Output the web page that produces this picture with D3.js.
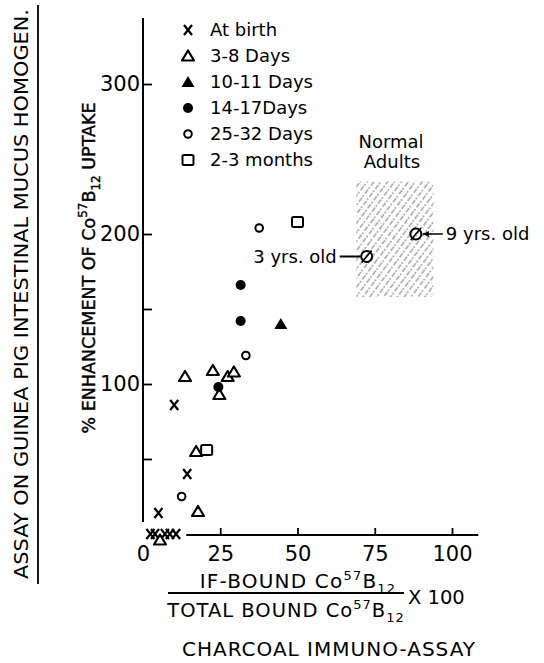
<!DOCTYPE html>
<html>
<head>
<script src="https://d3js.org/d3.v7.min.js"></script>
<style>
  body { margin: 0; background: #fff; }
  svg { font-family: 'DejaVu Sans', sans-serif; }
</style>
</head>
<body>
<div id="chart"></div>
<script>
// values: [IF-bound %, % enhancement]
const atBirth = [[2.4, 0], [3.9, 0], [7.1, 0], [8.7, 0], [10.7, 0], [5, 14], [14.3, 40], [10.1, 86]];
const days3to8 = [[13.6, 105], [22.6, 109], [27.4, 105], [29.4, 108], [24.7, 93], [17.2, 55], [17.8, 15], [5.5, -4]];
const days10to11 = [[44.6, 140]];
const days14to17 = [[31.6, 166], [31.6, 142], [24.4, 98]];
const days25to32 = [[33.3, 119], [37.6, 204], [12.5, 25]];
const months2to3 = [[50, 208], [20.6, 56]];
const adults = [[72.4, 185, "3 yrs. old"], [88.3, 200, "9 yrs. old"]];
const normalRangeX = [69, 94];
const normalRangeY = [158, 235];

const legendLabels = ["At birth", "3-8 Days", "10-11 Days", "14-17Days", "25-32 Days", "2-3 months"];
const xTicks = [0, 25, 50, 75, 100];
const yTicks = [50, 100, 150, 200, 300];
const yLabelled = [100, 200, 300];

const width = 544, height = 663;
const svg = d3.select("#chart").append("svg")
  .attr("width", width).attr("height", height);

const x = d3.scaleLinear().domain([0, 100]).range([143, 452]);
const y = d3.scaleLinear().domain([0, 300]).range([534, 84]);

// hatch for normal adults band
const defs = svg.append("defs");
const pat = defs.append("pattern")
  .attr("id", "hatch").attr("patternUnits", "userSpaceOnUse")
  .attr("width", 5.5).attr("height", 10)
  .attr("patternTransform", "rotate(37)");
pat.append("line").attr("x1", 1).attr("y1", 0).attr("x2", 1).attr("y2", 10)
  .attr("stroke", "#222").attr("stroke-width", 0.8).attr("stroke-dasharray", "5 2 2 1");

svg.append("rect")
  .attr("x", x(normalRangeX[0])).attr("y", y(normalRangeY[1]))
  .attr("width", x(normalRangeX[1]) - x(normalRangeX[0]))
  .attr("height", y(normalRangeY[0]) - y(normalRangeY[1]))
  .attr("fill", "url(#hatch)").attr("opacity", 0.8);

svg.append("text").attr("x", 391).attr("y", 148).attr("text-anchor", "middle")
  .attr("font-size", 18).text("Normal");
svg.append("text").attr("x", 392).attr("y", 168).attr("text-anchor", "middle")
  .attr("font-size", 18).text("Adults");

// axes
const yAxis = d3.axisLeft(y).tickValues(yTicks)
  .tickSize(-9).tickPadding(3)
  .tickFormat(d => yLabelled.includes(d) ? d : "");
const gy = svg.append("g").attr("transform", `translate(${x(0)},0)`).call(yAxis);
gy.select(".domain").remove();
gy.selectAll("line").attr("stroke", "#000").attr("stroke-width", 1.8);
gy.selectAll("text").attr("font-size", 21).attr("font-family", "'DejaVu Sans', sans-serif").attr("fill", "#000");
svg.append("line").attr("x1", x(0)).attr("x2", x(0))
  .attr("y1", y(344)).attr("y2", y(8))
  .attr("stroke", "#000").attr("stroke-width", 2);

const xAxis = d3.axisBottom(x).tickValues(xTicks)
  .tickSize(-7).tickPadding(11);
const gx = svg.append("g").attr("transform", `translate(0,${y(0) + 1})`).call(xAxis);
gx.select(".domain").remove();
gx.selectAll("line").attr("stroke", "#000").attr("stroke-width", 1.8)
  .filter(d => d === 0).remove();
gx.selectAll("text").attr("font-size", 21).attr("font-family", "'DejaVu Sans', sans-serif").attr("fill", "#000");
svg.append("line").attr("x1", x(14)).attr("x2", x(108.5))
  .attr("y1", y(0) + 1).attr("y2", y(0) + 1)
  .attr("stroke", "#000").attr("stroke-width", 2);

// marker shapes
const markers = {
  cross: g => g.append("path").attr("d", "M-4,-5L4,5M4,-5L-4,5")
    .attr("stroke", "#000").attr("stroke-width", 2.2).attr("fill", "none"),
  triOpen: g => g.append("path").attr("d", "M-6,4.5L6,4.5L0,-5.5Z")
    .attr("stroke", "#000").attr("stroke-width", 2.2).attr("fill", "#fff").attr("stroke-linejoin", "round"),
  triFilled: g => g.append("path").attr("d", "M-6.5,5L6.5,5L0,-6Z").attr("fill", "#000"),
  dotFilled: g => g.append("circle").attr("r", 5).attr("fill", "#000"),
  dotOpen: g => g.append("circle").attr("r", 3.8)
    .attr("stroke", "#000").attr("stroke-width", 2).attr("fill", "#fff"),
  square: g => g.append("rect").attr("x", -5.5).attr("y", -5).attr("width", 11).attr("height", 10).attr("rx", 1.5)
    .attr("stroke", "#000").attr("stroke-width", 2).attr("fill", "#fff"),
  adult: g => {
    g.append("circle").attr("r", 5.5).attr("stroke", "#000").attr("stroke-width", 2).attr("fill", "none");
    g.append("path").attr("d", "M-5,6L5,-6").attr("stroke", "#000").attr("stroke-width", 1.6);
  }
};

const series = [
  [atBirth, "cross"], [days3to8, "triOpen"], [days10to11, "triFilled"],
  [days14to17, "dotFilled"], [days25to32, "dotOpen"], [months2to3, "square"]
];

series.forEach(([data, m]) => {
  svg.append("g").selectAll("g").data(data).join("g")
    .attr("transform", d => `translate(${x(d[0])},${y(d[1])})`)
    .each(function () { markers[m](d3.select(this)); });
});

// adult points with labels
const ga = svg.append("g").selectAll("g").data(adults).join("g")
  .attr("transform", d => `translate(${x(d[0])},${y(d[1])})`);
ga.each(function () { markers.adult(d3.select(this)); });

const a3 = adults[0], a9 = adults[1];
svg.append("line").attr("x1", x(a3[0]) - 27).attr("x2", x(a3[0]) - 6)
  .attr("y1", y(a3[1])).attr("y2", y(a3[1])).attr("stroke", "#000").attr("stroke-width", 2);
svg.append("text").attr("x", x(a3[0]) - 30).attr("y", y(a3[1])).attr("dy", "0.35em")
  .attr("text-anchor", "end").attr("font-size", 18).text(a3[2]);
svg.append("line").attr("x1", x(a9[0]) + 7).attr("x2", x(a9[0]) + 27)
  .attr("y1", y(a9[1])).attr("y2", y(a9[1])).attr("stroke", "#000").attr("stroke-width", 1.5);
svg.append("path")
  .attr("d", `M${x(a9[0]) + 7},${y(a9[1])}l6,-3l0,6Z`).attr("fill", "#000");
svg.append("text").attr("x", x(a9[0]) + 30).attr("y", y(a9[1])).attr("dy", "0.35em")
  .attr("font-size", 18).text(a9[2]);

// legend
const legendKeys = ["cross", "triOpen", "triFilled", "dotFilled", "dotOpen", "square"];
const lg = svg.append("g").selectAll("g").data(legendLabels).join("g")
  .attr("transform", (d, i) => `translate(188,${30 + i * 26})`);
lg.each(function (d, i) { markers[legendKeys[i]](d3.select(this)); });
lg.append("text").attr("x", 22).attr("dy", "0.36em").attr("font-size", 18).text(d => d);

// y titles
svg.append("text")
  .attr("transform", "translate(28,294) rotate(-90)")
  .attr("text-anchor", "middle").attr("font-size", 19)
  .attr("textLength", 570).attr("lengthAdjust", "spacingAndGlyphs")
  .text("ASSAY ON GUINEA PIG INTESTINAL MUCUS HOMOGEN.");
svg.append("line").attr("x1", 38).attr("x2", 38).attr("y1", 5).attr("y2", 584)
  .attr("stroke", "#000").attr("stroke-width", 1.8);

const yt2 = svg.append("text")
  .attr("transform", "translate(95,268) rotate(-90)")
  .attr("text-anchor", "middle").attr("font-size", 17.5)
  .attr("stroke", "#000").attr("stroke-width", 0.4);
yt2.append("tspan").text("% ENHANCEMENT OF Co");
yt2.append("tspan").attr("font-size", 12).attr("dy", -8).text("57");
yt2.append("tspan").attr("dy", 8).text("B");
yt2.append("tspan").attr("font-size", 12).attr("dy", 5).text("12");
yt2.append("tspan").attr("dy", -5).text(" UPTAKE");

// x title fraction
function coB(t, label) {
  t.append("tspan").text(label + " Co");
  t.append("tspan").attr("font-size", 13).attr("dy", -8).text("57");
  t.append("tspan").attr("dy", 8).text("B");
  t.append("tspan").attr("font-size", 13).attr("dy", 5).text("12");
}
const num = svg.append("text").attr("x", 298).attr("y", 588).attr("text-anchor", "middle")
  .attr("font-size", 20).attr("letter-spacing", 1.2);
coB(num, "IF-BOUND");
svg.append("line").attr("x1", 168).attr("x2", 404).attr("y1", 593).attr("y2", 593)
  .attr("stroke", "#000").attr("stroke-width", 1.8);
const den = svg.append("text").attr("x", 286).attr("y", 617).attr("text-anchor", "middle")
  .attr("font-size", 19.5).attr("letter-spacing", 1);
coB(den, "TOTAL BOUND");
svg.append("text").attr("x", 408).attr("y", 604).attr("font-size", 19.5).text("X 100");

svg.append("text").attr("x", 329).attr("y", 656).attr("text-anchor", "middle")
  .attr("font-size", 20).attr("letter-spacing", 1).text("CHARCOAL IMMUNO-ASSAY");
</script>
</body>
</html>
